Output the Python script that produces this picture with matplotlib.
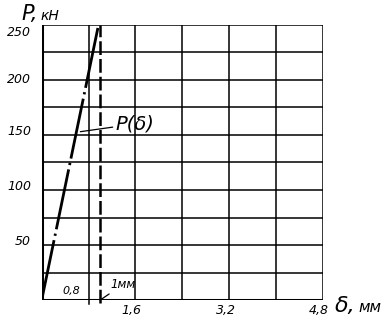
import matplotlib.pyplot as plt
import numpy as np

# load curve P(delta)
delta_mm = [0.0, 0.97]
load_kn = [0, 250]

# one millimetre mark
delta_1mm = 1.0

x_grid = [0.0, 0.8, 1.6, 2.4, 3.2, 4.0, 4.8]
y_grid = [0, 25, 50, 75, 100, 125, 150, 175, 200, 225, 250]
x_labels = {1.6: '1,6', 3.2: '3,2', 4.8: '4,8'}
y_labels = [50, 100, 150, 200, 250]

fig = plt.figure(figsize=(3.88, 3.22), dpi=100)
ax = fig.add_axes([0.1075, 0.0683, 0.7242, 0.8541])
ax.set_xlim(0, 4.8)
ax.set_ylim(0, 250)

for x in x_grid:
    ax.axvline(x, color='black', lw=1.1, zorder=1)
for y in y_grid:
    ax.axhline(y, color='black', lw=1.1, zorder=1)

for s in ax.spines.values():
    s.set_visible(False)
ax.axvline(0, color='black', lw=2.2, zorder=2)
ax.axhline(0, color='black', lw=2.2, zorder=2)

ax.set_xticks([])
ax.set_yticks([])

# P(delta) line, long dash + dot
ax.plot(delta_mm, load_kn, color='black', lw=2.0, linestyle=(0, (22, 1.6, 0.8, 1.6)),
        solid_capstyle='butt', zorder=3)
# dashed line at 1 mm
ax.plot([delta_1mm, delta_1mm], [-3, 250], color='black', lw=1.8,
        linestyle=(0, (5.5, 1.6)), clip_on=False, zorder=3)
# small tick below the 0.8 line
ax.plot([0.8, 0.8], [-4, 0], color='black', lw=1.1, clip_on=False)

font = dict(family='DejaVu Sans', style='italic', color='black')
for y in y_labels:
    off = -7 if y == 250 else (0 if y == 200 else 3)
    ax.text(-0.18, y + off, str(y), ha='right', va='center', fontsize=9, **font)
for x, lab in x_labels.items():
    ax.text(x - 0.06, -4, lab, ha='center', va='top', fontsize=9, **font)
ax.text(0.5, 4, '0,8', ha='center', va='bottom', fontsize=8, **font)

ax.annotate('1мм', xy=(delta_1mm, 0), xytext=(1.17, 8), fontsize=8.5,
            ha='left', va='bottom',
            arrowprops=dict(arrowstyle='-', color='black', lw=0.9,
                            shrinkA=0, shrinkB=0), **font)
ax.annotate('P(δ)', xy=(0.66, 153), xytext=(1.26, 160), fontsize=14,
            ha='left', va='center',
            arrowprops=dict(arrowstyle='-', color='black', lw=0.9,
                            shrinkA=0, shrinkB=0), **font)

fig.text(0.055, 0.955, 'P,', fontsize=15, ha='left', va='center', **font)
fig.text(0.105, 0.950, 'кН', fontsize=10, ha='left', va='center', **font)
fig.text(0.862, 0.050, 'δ,', fontsize=16, ha='left', va='center', **font)
fig.text(0.925, 0.046, 'мм', fontsize=11, ha='left', va='center', **font)

fig.savefig('out.png', dpi=100)
